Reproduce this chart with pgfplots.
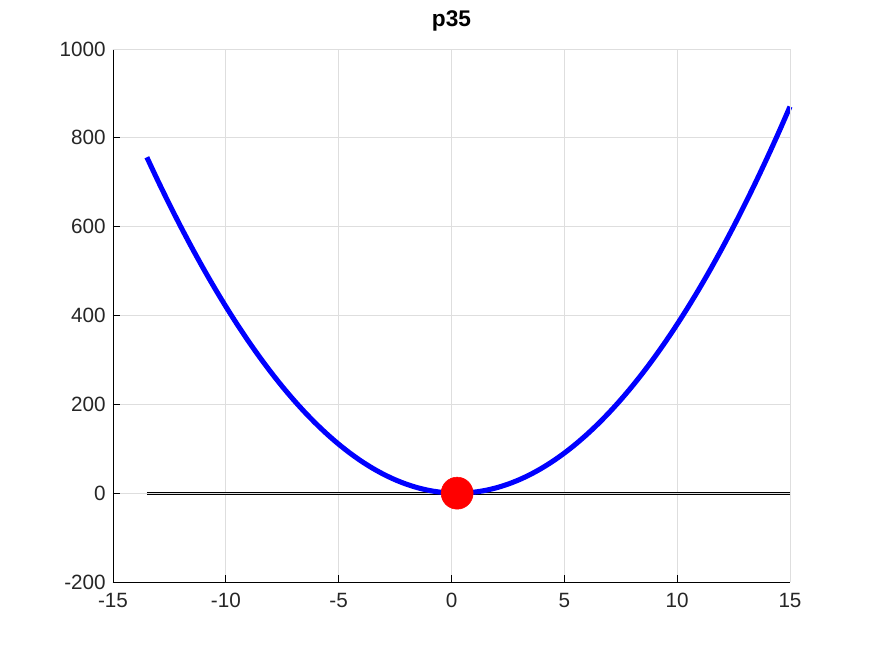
\documentclass[border=0pt]{standalone}
\usepackage{pgfplots}
\pgfplotsset{compat=1.18}
\usepackage{fontspec}
\setmainfont{Liberation Sans}
\definecolor{gridgray}{RGB}{222,222,222}
\definecolor{txtgray}{RGB}{38,38,38}
\begin{document}
\begin{tikzpicture}
\useasboundingbox[fill=white] (0pt,0pt) rectangle (654pt,490.5pt);
\begin{axis}[
    at={(84.75pt,54pt)}, anchor=south west,
    scale only axis,
    width=507.75pt, height=399.75pt,
    xmin=-15, xmax=15, ymin=-200, ymax=1000,
    xtick={-15,-10,...,15}, ytick={-200,0,...,1000},
    axis lines*=left,
    axis line style={black, line width=0.6pt},
    tick align=inside, tick style={black, line width=0.6pt},
    major tick length=5pt,
    grid=major, major grid style={gridgray, line width=0.6pt},
    ticklabel style={font=\fontsize{15.5}{17}\selectfont, text=txtgray},
    xticklabel style={yshift=-5pt},
    yticklabel style={xshift=-2pt},
    /pgf/number format/assume math mode=true,
    scaled ticks=false,
    yticklabel style={/pgf/number format/1000 sep={}},
    title={\textbf{p35}}, title style={font=\fontsize{17}{19}\selectfont, yshift=4pt},
    clip=false,
    extra description/.code={
      \draw[gridgray, line width=0.6pt] (rel axis cs:0,1) -- (rel axis cs:1,1) -- (rel axis cs:1,0);
    },
]
% zero line (drawn double)
\addplot[black, line width=0.8pt] coordinates {(-13.5,2.2) (15,2.2)};
\addplot[black, line width=0.8pt] coordinates {(-13.5,-3) (15,-3)};
% curve
\addplot[blue, line width=3.8pt, smooth] coordinates {
(-13.5,756.25) (-13,702.25) (-12.5,650.25) (-12,600.25) (-11.5,552.25)
(-11,506.25) (-10.5,462.25) (-10,420.25) (-9.5,380.25) (-9,342.25)
(-8.5,306.25) (-8,272.25) (-7.5,240.25) (-7,210.25) (-6.5,182.25)
(-6,156.25) (-5.5,132.25) (-5,110.25) (-4.5,90.25) (-4,72.25)
(-3.5,56.25) (-3,42.25) (-2.5,30.25) (-2,20.25) (-1.5,12.25)
(-1,6.25) (-0.5,2.25) (0,0.25) (0.25,0) (0.5,0.25) (1,2.25)
(1.5,6.25) (2,12.25) (2.5,20.25) (3,30.25) (3.5,42.25)
(4,56.25) (4.5,72.25) (5,90.25) (5.5,110.25) (6,132.25)
(6.5,156.25) (7,182.25) (7.5,210.25) (8,240.25) (8.5,272.25)
(9,306.25) (9.5,342.25) (10,380.25) (10.5,420.25) (11,462.25)
(11.5,506.25) (12,552.25) (12.5,600.25) (13,650.25) (13.5,702.25)
(14,756.25) (14.5,812.25) (15,870.25)
};
% minimum
\addplot[only marks, mark=*, mark size=12pt, red, mark options={draw=red, fill=red}] coordinates {(0.25,0)};
\end{axis}
\end{tikzpicture}
\end{document}
